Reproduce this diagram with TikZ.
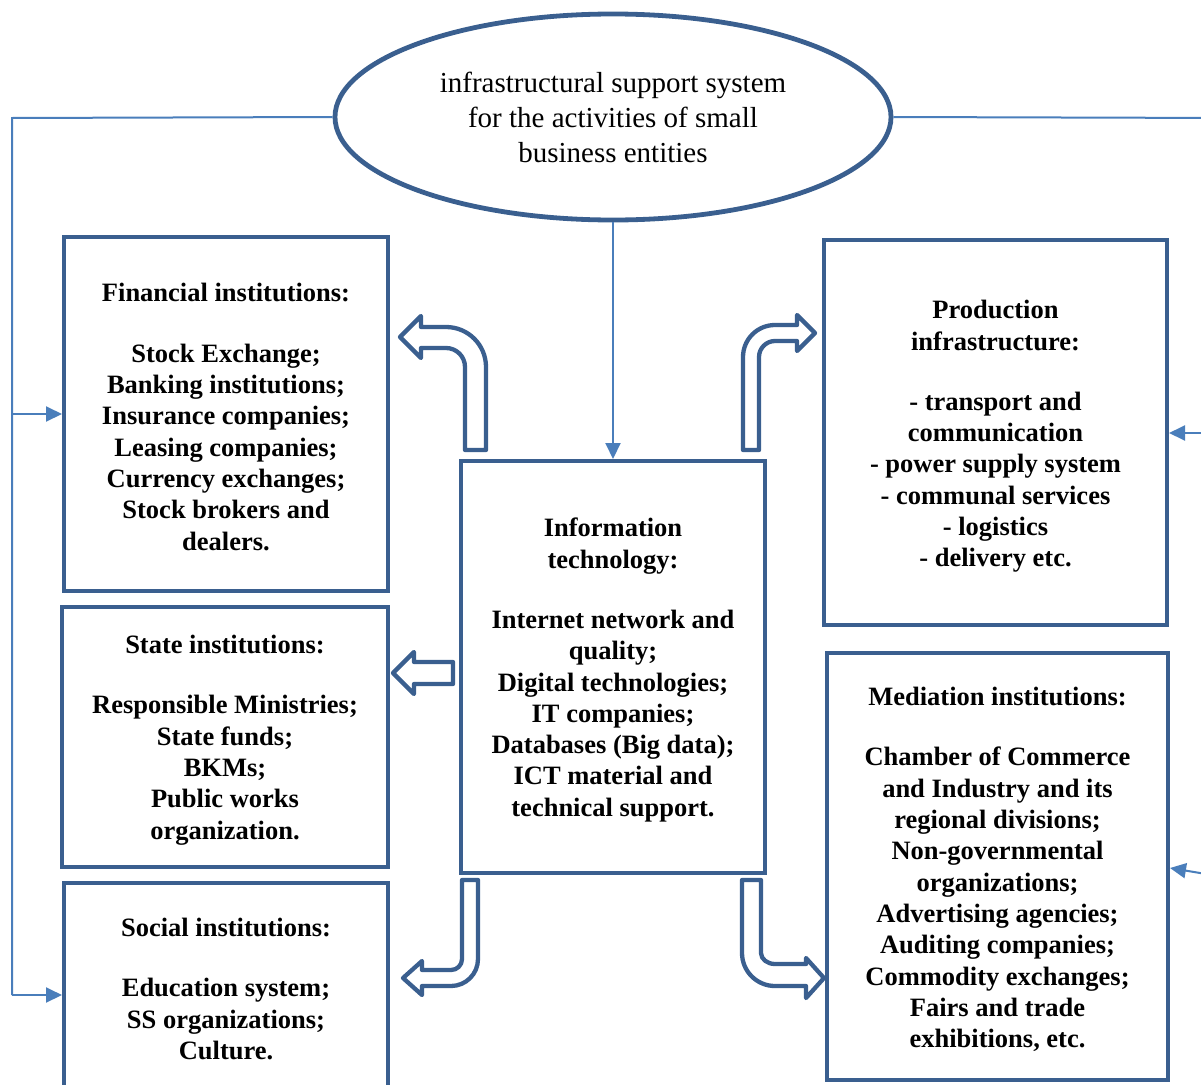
\documentclass[tikz,border=0pt]{standalone}
\usepackage{fontspec}
\setmainfont{Liberation Serif}
\usetikzlibrary{arrows.meta,shapes.geometric}
\definecolor{boxblue}{RGB}{58,95,143}
\definecolor{linkblue}{RGB}{74,126,187}
\begin{document}
\begin{tikzpicture}[x=1pt,y=-1pt,
  box/.style={draw=boxblue,line width=4pt,rectangle,inner sep=0pt},
  boxtext/.style={inner sep=0pt,align=center,font=\fontsize{26.5}{31.3}\selectfont\bfseries},
  blockarrow/.style={draw=boxblue,line width=4.3pt,fill=white,line join=round},
  link/.style={draw=linkblue,line width=2pt},
  linkarrow/.style={link,-{Triangle[length=16pt,width=15pt]}}]
\useasboundingbox (0,0) rectangle (1201,1084);
\clip (0,0) rectangle (1201,1084);

% central ellipse
\node[draw=boxblue,line width=4.8pt,ellipse,inner sep=0pt,minimum width=556pt,minimum height=206pt,
  align=center,font=\fontsize{29}{35}\selectfont] (ell) at (613,117)
  {infrastructural support system\\for the activities of small\\business entities};

% boxes
\node[box,minimum width=324pt,minimum height=354pt] (fin) at (226,414) {};
\node[box,minimum width=326pt,minimum height=260pt] (sta) at (225,737) {};
\node[box,minimum width=324pt,minimum height=210pt] (soc) at (226,988) {};
\node[box,minimum width=304pt,minimum height=412pt] (it) at (613,667) {};
\node[box,minimum width=343pt,minimum height=385pt] (prod) at (995.5,432.5) {};
\node[box,minimum width=341pt,minimum height=427pt] (med) at (997.5,866.5) {};

\node[boxtext] (fintext) at ([yshift=-3pt]fin.center)
  {Financial institutions:\\[29pt]Stock Exchange;\\Banking institutions;\\Insurance companies;\\Leasing companies;\\Currency exchanges;\\Stock brokers and\\dealers.};
\node[boxtext] (statext) at ([yshift=-3pt]sta.center)
  {State institutions:\\[29pt]Responsible Ministries;\\State funds;\\BKMs;\\Public works\\organization.};
\node[boxtext] (soctext) at ([yshift=-1pt]soc.center)
  {Social institutions:\\[29pt]Education system;\\SS organizations;\\Culture.};
\node[boxtext] (ittext) at ([yshift=-3pt]it.center)
  {Information\\technology:\\[29pt]Internet network and\\quality;\\Digital technologies;\\IT companies;\\Databases (Big data);\\ICT material and\\technical support.};
\node[boxtext] (prodtext) at ([yshift=-4pt]prod.center)
  {Production\\infrastructure:\\[29pt]- transport and\\communication\\- power supply system\\- communal services\\- logistics\\- delivery etc.};
\node[boxtext] (medtext) at ([yshift=-3pt]med.center)
  {Mediation institutions:\\[29pt]Chamber of Commerce\\and Industry and its\\regional divisions;\\Non-governmental\\organizations;\\Advertising agencies;\\Auditing companies;\\Commodity exchanges;\\Fairs and trade\\exhibitions, etc.};

% thin connectors
\coordinate (lt) at (12,118);
\coordinate (lb) at (12,995);
\coordinate (lm) at (12,414);
\coordinate (rt) at (1230,118);
\coordinate (rp) at (1230,433);
\coordinate (rm) at (1230,878);
\draw[link] (ell.west) -- (lt) -- (lb);
\draw[linkarrow] (lb) -- (soc.west |- lb);
\draw[linkarrow] (lm) -- (fin.west |- lm);
\draw[linkarrow] (ell.south) -- (it.north);
\draw[link] (ell.east) -- (rt);
\draw[linkarrow] (rp) -- (prod.east |- rp);
\draw[linkarrow] (rm) -- (med.east |- 0,868);

% block arrows
\draw[blockarrow] (486,450) -- (486,367) .. controls (486,344.9) and (468.1,327) .. (446,327)
  -- (421,327) -- (421,316) -- (400,337) -- (421,358) -- (421,348) -- (446,348)
  .. controls (456.5,348) and (465,356.5) .. (465,367) -- (465,450) -- cycle;
\draw[blockarrow] (743,450) -- (743,357) .. controls (743,339.3) and (757.3,325) .. (775,325)
  -- (797,325) -- (797,315) -- (815,333) -- (797,351) -- (797,341) -- (775,341)
  .. controls (766.2,341) and (759,348.2) .. (759,357) -- (759,450) -- cycle;
\draw[blockarrow] (453,662) -- (414,662) -- (414,652) -- (393,673) -- (414,694) -- (414,684) -- (453,684) -- cycle;
\draw[blockarrow] (462,880) -- (462,959) .. controls (462,965.1) and (457.1,970) .. (451,970)
  -- (422,970) -- (422,961) -- (403,978) -- (422,995) -- (422,986) -- (451,986)
  .. controls (465.9,986) and (478,973.9) .. (478,959) -- (478,880) -- cycle;
\draw[blockarrow] (742,880) -- (742,953) .. controls (742,971.2) and (756.8,986) .. (775,986)
  -- (806,986) -- (806,998) -- (824,978) -- (806,958) -- (806,964) -- (775,964)
  .. controls (767.3,964) and (761,959.1) .. (761,953) -- (761,880) -- cycle;
\end{tikzpicture}
\end{document}
